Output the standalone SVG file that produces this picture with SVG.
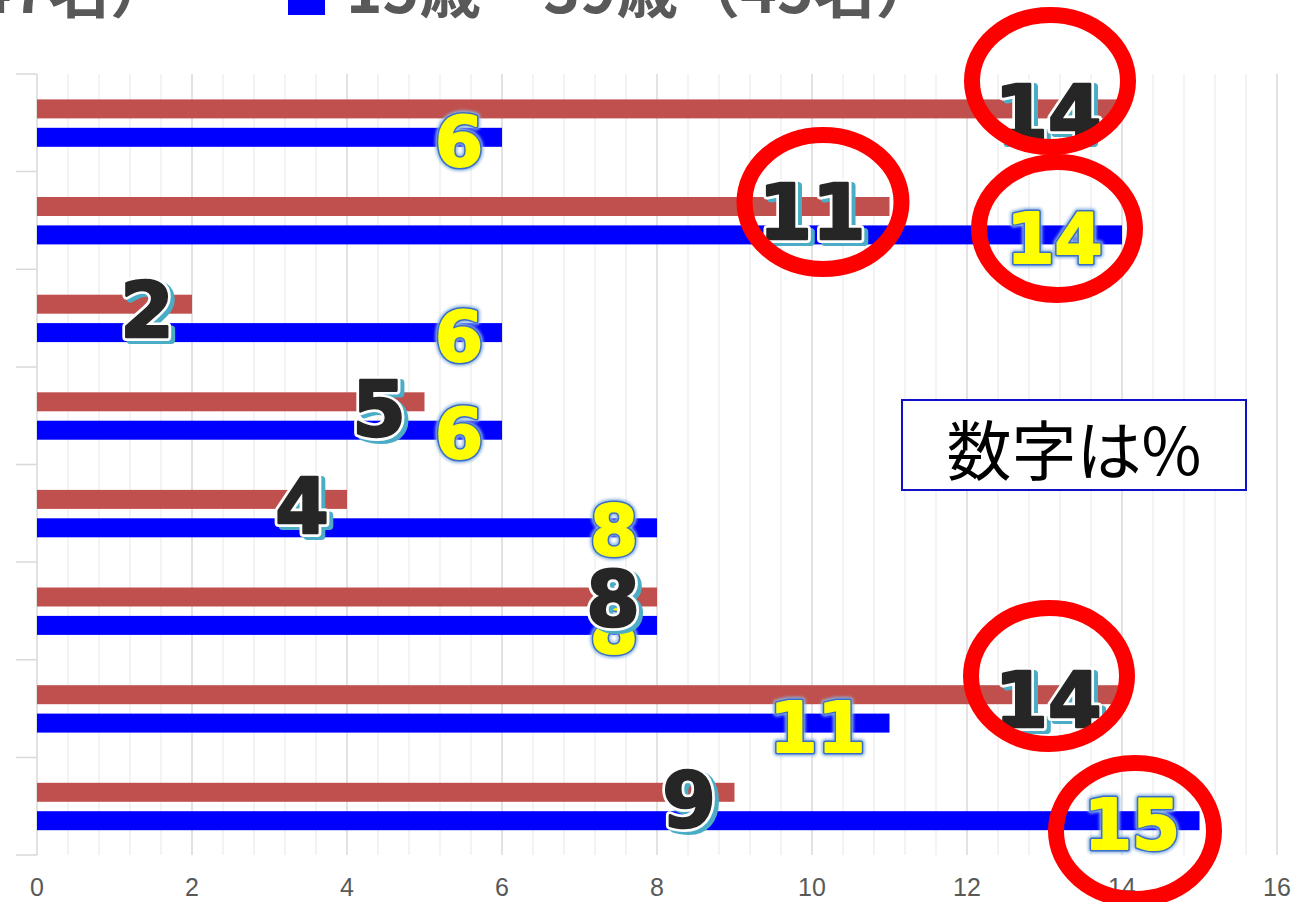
<svg xmlns="http://www.w3.org/2000/svg" width="1310" height="902" viewBox="0 0 1310 902">
<defs>
<style>
.minor{stroke:#EFEFEF;stroke-width:1.5;fill:none}
.major{stroke:#D9D9D9;stroke-width:1.5;fill:none}
.red{fill:#C0504D}
.blue{fill:#0000FF}
.tick{font-family:"Liberation Sans",Arial,sans-serif;font-size:25px;fill:#595959;text-anchor:middle}
.leg{font-family:"Noto Sans CJK JP","Noto Sans",sans-serif;font-size:62px;font-weight:700;fill:#595959}
.lbl{font-family:"DejaVu Sans","Liberation Sans",sans-serif;font-weight:bold;text-anchor:middle}
.bk{font-size:77px}
.ye{font-size:69px}
.bshadow{fill:#4BACC6;stroke:#4BACC6;stroke-width:8;stroke-linejoin:round}
.bwhite{fill:#FFFFFF;stroke:#FFFFFF;stroke-width:8;stroke-linejoin:round}
.bfront{fill:#262626;stroke:#262626;stroke-width:2.6;stroke-linejoin:round}
.yglow{fill:#8DB4E2;stroke:#8DB4E2;stroke-width:8;stroke-linejoin:round;filter:url(#blur)}
.yline{fill:#3A6FC4;stroke:#3A6FC4;stroke-width:5;stroke-linejoin:round}
.yfront{fill:#FFFF00;stroke:#FFFF00;stroke-width:2;stroke-linejoin:round}
.ring{fill:none;stroke:#FF0000;stroke-width:16}
</style>
<filter id="blur" x="-30%" y="-30%" width="160%" height="160%"><feGaussianBlur stdDeviation="1.6"/></filter>
</defs>
<rect width="1310" height="902" fill="#FFFFFF"/>

<g id="legend">
<text class="leg" x="172" y="13" text-anchor="end">（47名）</text>
<rect x="288" y="-20" width="37" height="35" fill="#0000FF"/>
<text class="leg" x="346" y="13">15歳～39歳（45名）</text>
</g>

<g id="grid">
<path class="minor" d="M68 74V855M99 74V855M130 74V855M161 74V855M223 74V855M254 74V855M285 74V855M316 74V855M378 74V855M409 74V855M440 74V855M471 74V855M533 74V855M564 74V855M595 74V855M626 74V855M688 74V855M719 74V855M750 74V855M781 74V855M843 74V855M874 74V855M905 74V855M936 74V855M998 74V855M1029 74V855M1060 74V855M1091 74V855M1153 74V855M1184 74V855M1215 74V855M1246 74V855"/>
<path class="major" d="M192 74V855M347 74V855M502 74V855M657 74V855M812 74V855M967 74V855M1122 74V855M1277 74V855"/>
<path class="major" d="M37 74V855M16 74H37M16 171.6H37M16 269.3H37M16 366.9H37M16 464.5H37M16 562.1H37M16 659.8H37M16 757.4H37M16 855H37"/>
</g>

<g id="axis-labels">
<text class="tick" x="37" y="896">0</text>
<text class="tick" x="192" y="896">2</text>
<text class="tick" x="347" y="896">4</text>
<text class="tick" x="502" y="896">6</text>
<text class="tick" x="657" y="896">8</text>
<text class="tick" x="812" y="896">10</text>
<text class="tick" x="967" y="896">12</text>
<text class="tick" x="1122" y="896">14</text>
<text class="tick" x="1277" y="896">16</text>
</g>

<g id="bars">
<rect class="red" x="37" y="99.4" width="1085" height="19"/>
<rect class="blue" x="37" y="127.8" width="465" height="19"/>
<rect class="red" x="37" y="197" width="852.5" height="19"/>
<rect class="blue" x="37" y="225.4" width="1085" height="19"/>
<rect class="red" x="37" y="294.7" width="155" height="19"/>
<rect class="blue" x="37" y="323.1" width="465" height="19"/>
<rect class="red" x="37" y="392.3" width="387.5" height="19"/>
<rect class="blue" x="37" y="420.7" width="465" height="19"/>
<rect class="red" x="37" y="489.9" width="310" height="19"/>
<rect class="blue" x="37" y="518.3" width="620" height="19"/>
<rect class="red" x="37" y="587.5" width="620" height="19"/>
<rect class="blue" x="37" y="615.9" width="620" height="19"/>
<rect class="red" x="37" y="685.2" width="1085" height="19"/>
<rect class="blue" x="37" y="713.6" width="852.5" height="19"/>
<rect class="red" x="37" y="782.8" width="697.5" height="19"/>
<rect class="blue" x="37" y="811.2" width="1162.5" height="19"/>
</g>

<g id="blue-labels" class="lbl ye">
<g id="b1"><text class="yglow" x="459" y="165.5">6</text><text class="yline" x="459" y="165.5">6</text><text class="yfront" x="459" y="165.5">6</text></g>
<g id="b2"><text class="yglow" x="1054.5" y="262.5">14</text><text class="yline" x="1054.5" y="262.5">14</text><text class="yfront" x="1054.5" y="262.5">14</text></g>
<g id="b3"><text class="yglow" x="459" y="361">6</text><text class="yline" x="459" y="361">6</text><text class="yfront" x="459" y="361">6</text></g>
<g id="b4"><text class="yglow" x="459" y="458">6</text><text class="yline" x="459" y="458">6</text><text class="yfront" x="459" y="458">6</text></g>
<g id="b5"><text class="yglow" x="614" y="554.5">8</text><text class="yline" x="614" y="554.5">8</text><text class="yfront" x="614" y="554.5">8</text></g>
<g id="b6"><text class="yglow" x="614" y="653">8</text><text class="yline" x="614" y="653">8</text><text class="yfront" x="614" y="653">8</text></g>
<g id="b7"><text class="yglow" x="817.5" y="751.5">11</text><text class="yline" x="817.5" y="751.5">11</text><text class="yfront" x="817.5" y="751.5">11</text></g>
<g id="b8"><text class="yglow" x="1132" y="849">15</text><text class="yline" x="1132" y="849">15</text><text class="yfront" x="1132" y="849">15</text></g>
</g>

<g id="red-labels" class="lbl bk">
<g id="r1"><text class="bshadow" x="1052" y="142.5">14</text><text class="bwhite" x="1048" y="139.5">14</text><text class="bfront" x="1048" y="139.5">14</text></g>
<g id="r2"><text class="bshadow" x="816" y="241.5">11</text><text class="bwhite" x="812" y="238.5">11</text><text class="bfront" x="812" y="238.5">11</text></g>
<g id="r3"><text class="bshadow" x="151" y="339.5">2</text><text class="bwhite" x="147" y="336.5">2</text><text class="bfront" x="147" y="336.5">2</text></g>
<g id="r4"><text class="bshadow" x="383" y="438.5">5</text><text class="bwhite" x="379" y="435.5">5</text><text class="bfront" x="379" y="435.5">5</text></g>
<g id="r5"><text class="bshadow" x="306" y="535.5">4</text><text class="bwhite" x="302" y="532.5">4</text><text class="bfront" x="302" y="532.5">4</text></g>
<g id="r6"><text class="bshadow" x="617" y="629">8</text><text class="bwhite" x="613" y="626">8</text><text class="bfront" x="613" y="626">8</text></g>
<g id="r7"><text class="bshadow" x="1052" y="729.5">14</text><text class="bwhite" x="1048" y="726.5">14</text><text class="bfront" x="1048" y="726.5">14</text></g>
<g id="r8"><text class="bshadow" x="693" y="829.5">9</text><text class="bwhite" x="689" y="826.5">9</text><text class="bfront" x="689" y="826.5">9</text></g>
</g>

<g id="note">
<rect x="902" y="400" width="344" height="90" fill="#FFFFFF" stroke="#1010C8" stroke-width="2"/>
<text x="1074" y="475" text-anchor="middle" font-family="'Noto Sans CJK JP','Noto Sans',sans-serif" font-size="65" fill="#000000">数字は%</text>
</g>

<g id="highlights">
<ellipse class="ring" cx="1050" cy="81" rx="78" ry="66"/>
<ellipse class="ring" cx="1057" cy="228.5" rx="78" ry="66.5"/>
<ellipse class="ring" cx="823" cy="202" rx="78.5" ry="67"/>
<ellipse class="ring" cx="1049" cy="676" rx="78" ry="68"/>
<ellipse class="ring" cx="1135" cy="831" rx="79" ry="68"/>
</g>
</svg>
